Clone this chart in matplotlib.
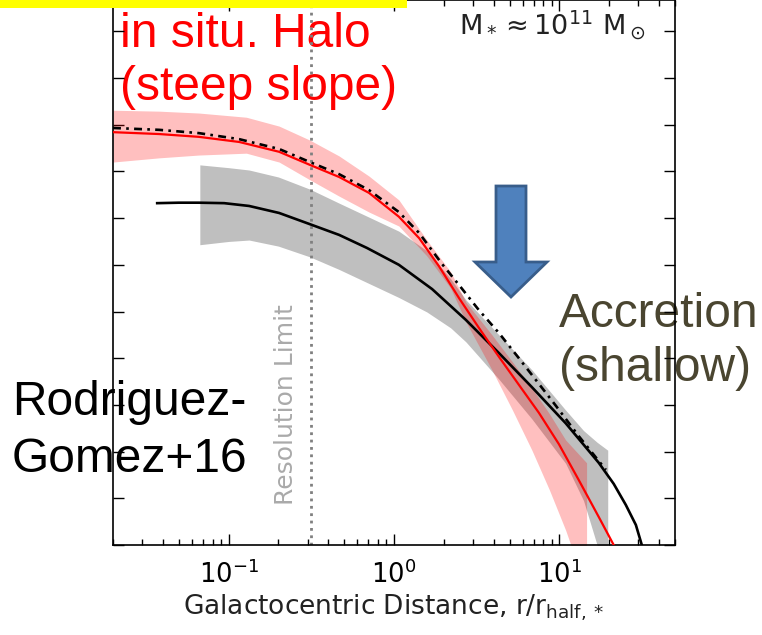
import numpy as np
import matplotlib
matplotlib.use('Agg')
import matplotlib.pyplot as plt
from matplotlib.patches import Polygon, Rectangle

# 径向轮廓（任意单位，log 密度）
r_insitu = [0.02, 0.038, 0.066, 0.116, 0.202, 0.31, 0.466, 0.706, 1.07, 1.42, 1.87, 2.47,
            3.26, 4.31, 5.69, 7.52, 9.93, 13.1, 17.3, 21.3, 23.5]
p_insitu = [8.84, 8.80, 8.74, 8.63, 8.42, 8.14, 7.88, 7.54, 7.03, 6.57, 5.97, 5.29,
            4.65, 4.03, 3.43, 2.83, 2.16, 1.39, 0.60, 0.0, -0.4]

r_total = [0.02, 0.038, 0.066, 0.116, 0.202, 0.31, 0.466, 0.706, 1.07, 1.42, 1.95, 2.47,
           3.26, 4.31, 5.69, 7.52, 9.53, 13.1, 19.1]
p_total = [8.93, 8.89, 8.82, 8.69, 8.48, 8.20, 7.94, 7.60, 7.13, 6.68, 6.02, 5.57,
           5.03, 4.54, 4.00, 3.45, 2.98, 2.33, 1.61]

r_exsitu = [0.037, 0.050, 0.066, 0.094, 0.133, 0.202, 0.31, 0.466, 0.687, 1.07, 1.70, 2.72,
            4.31, 6.82, 10.9, 17.3, 21.3, 25.2, 29.0, 31.5, 34.7]
p_exsitu = [7.32, 7.33, 7.33, 7.32, 7.26, 7.11, 6.87, 6.64, 6.36, 6.00, 5.48, 4.82,
            4.11, 3.38, 2.61, 1.76, 1.31, 0.86, 0.43, 0.0, -0.32]

# 散布区间
r_band_in = [0.02, 0.038, 0.066, 0.128, 0.202, 0.31, 0.466, 0.706, 1.07, 1.58, 2.2, 2.72,
             3.91, 5.2, 6.82, 8.7, 10.9, 14.6]
lo_band_in = [8.20, 8.29, 8.35, 8.39, 8.20, 7.82, 7.47, 7.13, 6.83, 6.19, 5.50, 4.78,
              3.75, 2.89, 2.03, 1.18, 0.32, -0.96]
hi_band_in = [9.31, 9.29, 9.25, 9.16, 8.97, 8.67, 8.33, 7.90, 7.39, 6.53, 5.85, 5.20,
              4.50, 3.92, 3.36, 2.81, 2.25, 1.76]

r_band_ex = [0.067, 0.1, 0.133, 0.2, 0.31, 0.466, 0.706, 1.07, 1.58, 2.2, 2.72, 4.31,
             6.82, 10.9, 14.0, 16.9, 19.6]
lo_band_ex = [6.43, 6.50, 6.53, 6.40, 6.17, 5.90, 5.60, 5.30, 4.99, 4.65, 4.35, 3.55,
              2.70, 1.75, 0.95, 0.0, -1.0]
hi_band_ex = [8.14, 8.08, 8.03, 7.88, 7.62, 7.32, 7.02, 6.72, 6.30, 5.70, 5.25, 4.50,
              3.75, 2.89, 2.45, 2.20, 2.03]

res_limit = 10 ** -0.5
xticks = [0.1, 1, 10]

W, H = 762, 635
fig = plt.figure(figsize=(W / 100, H / 100), dpi=100)
ax = fig.add_axes([113 / W, 1 - 545 / H, (675 - 113) / W, 545 / H])


def fpos(px, py):
    """像素坐标（左上角原点）转 figure 坐标"""
    return px / W, 1 - py / H


ax.fill_between(r_band_ex, lo_band_ex, hi_band_ex, color='gray', alpha=0.5, lw=0, zorder=2)
ax.fill_between(r_band_in, lo_band_in, hi_band_in, color='red', alpha=0.25, lw=0, zorder=2.1)

ax.plot(r_exsitu, p_exsitu, color='black', lw=1.9, zorder=3)
ax.plot(r_total, p_total, color='black', lw=1.9, ls=(0, (3, 2, 1, 2)), zorder=3.1)
ax.plot(r_insitu, p_insitu, color='red', lw=1.6, zorder=3.2)

ax.axvline(res_limit, color='gray', ls=':', lw=2, zorder=2.5)
ax.text(0.222, 3.0, 'Resolution Limit', rotation=90, color='#aaaaaa',
        fontsize=18, ha='center', va='center', zorder=1)

ax.set_xscale('log')
ax.set_xlim(0.02, 50)
ax.set_ylim(0, 545 / 46.7)
ax.set_xticks(xticks)
ax.set_yticks(np.arange(0, 12))
ax.set_yticklabels([])
ax.tick_params(which='both', direction='in', top=True, right=True, width=1)
ax.tick_params(which='major', length=8, labelsize=18.5, pad=11)
ax.tick_params(which='minor', length=4.5)
for sp in ax.spines.values():
    sp.set_linewidth(1.2)
ax.set_xlabel('Galactocentric Distance, $\\mathregular{r/r_{half,*}}$',
              fontsize=19, color='#222222', labelpad=3)

ax.text(*fpos(459, 35), '$\\mathregular{M}_*\\approx 10^{11}\\ \\mathregular{M}_\\odot$',
        transform=fig.transFigure, fontsize=19.5, color='#222222', va='baseline')

# 注释文字（画在坐标轴下层）
ann = dict(transform=fig.transFigure, fontsize=34.5, family='Liberation Sans',
           va='baseline', ha='left', zorder=1, clip_on=False)
ax.text(*fpos(120, 47), 'in situ. Halo', color='red', **ann)
ax.text(*fpos(120, 100), '(steep slope)', color='red', **ann)
ax.text(*fpos(559, 327), 'Accretion', color='#4a4530', **ann)
ax.text(*fpos(559, 381), '(shallow)', color='#4a4530', **ann)
ax.text(*fpos(12, 415), 'Rodriguez-', color='black', **ann)
ax.text(*fpos(12, 472), 'Gomez+16', color='black', **ann)

# 顶部黄色条
fig.patches.append(Rectangle(fpos(0, 8), 407 / W, 8 / H, transform=fig.transFigure,
                             facecolor='#ffff00', edgecolor='none', zorder=5))

# 蓝色箭头
arrow_px = [(496, 186), (526, 186), (526, 262), (547, 262), (511, 297), (475, 262), (496, 262)]
fig.patches.append(Polygon([fpos(*p) for p in arrow_px], closed=True, transform=fig.transFigure,
                           facecolor='#4f81bd', edgecolor='#385d8a', lw=2, zorder=5))

fig.savefig('out.png', dpi=100)
